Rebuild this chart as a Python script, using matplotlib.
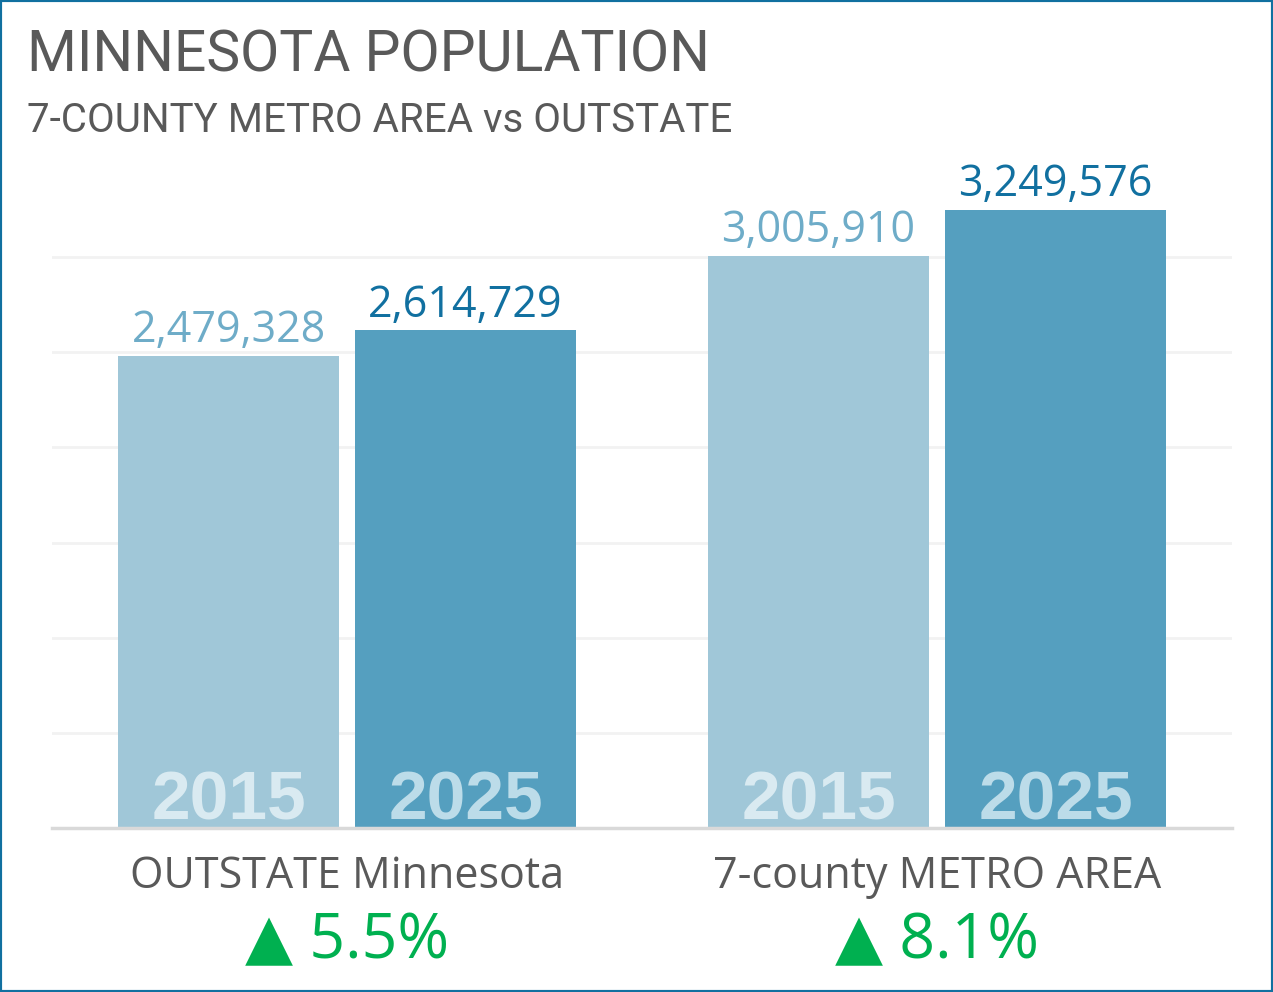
import matplotlib
matplotlib.use('Agg')
import matplotlib.pyplot as plt
from matplotlib.transforms import blended_transform_factory
from matplotlib.patches import Rectangle
import numpy as np

regions = ['OUTSTATE Minnesota', '7-county METRO AREA']
years = ['2015', '2025']
pop_2015 = [2479328, 3005910]
pop_2025 = [2614729, 3249576]
growth = ['5.5%', '8.1%']

light = '#A0C7D8'
dark = '#559FBF'
grey = '#595959'
green = '#00B050'
frame = '#1170A0'

fig = plt.figure(figsize=(12.73, 9.92), dpi=100)
ax = fig.add_axes([52/1273, 1-828/992, 1180/1273, (828-162)/992])

x = np.arange(len(regions))
w = 0.376
off = 0.2008
b1 = ax.bar(x - off, pop_2015, w, color=light, zorder=2)
b2 = ax.bar(x + off, pop_2025, w, color=dark, zorder=2)

ax.set_xlim(-0.5, 1.5)
ax.set_ylim(0, 3.5e6)
ax.set_yticks(np.arange(5e5, 3.5e6, 5e5))
ax.yaxis.grid(True, color='#F2F2F2', linewidth=2)
ax.set_axisbelow(True)
ax.tick_params(left=False, bottom=False, labelleft=False, labelbottom=False)
for s in ['top', 'right', 'left']:
    ax.spines[s].set_visible(False)
ax.spines['bottom'].set_color('#D9D9D9')
ax.spines['bottom'].set_linewidth(2.5)
ax.spines['bottom'].set_zorder(3)

valfont = dict(family='Open Sans', fontsize=31)
for bars, col in [(b1, '#6EACC8'), (b2, '#1170A0')]:
    for b in bars:
        h = b.get_height()
        ax.annotate(f'{h:,}', (b.get_x() + b.get_width()/2, h), xytext=(0, 2),
                    textcoords='offset points', ha='center', va='bottom', color=col, **valfont)

for bars, yr, col in [(b1, years[0], '#D9EAF1'), (b2, years[1], '#BCDCE9')]:
    for b in bars:
        ax.annotate(yr, (b.get_x() + b.get_width()/2, 0), xytext=(0, 6),
                    textcoords='offset points', ha='center', va='baseline', color=col,
                    family='Liberation Sans', fontweight='bold', fontsize=50, zorder=4)

tr = blended_transform_factory(ax.transData, fig.transFigure)
for i, (r, g) in enumerate(zip(regions, growth)):
    ax.text(x[i], 1-877/992, r, transform=tr, ha='center', va='center',
            family='Open Sans', fontsize=31, color=grey)
    ax.text(x[i], 1-942/992, '\u25B2 ' + g, transform=tr, ha='center', va='center',
            family=['Open Sans', 'DejaVu Sans'], fontsize=45, color=green)

fig.text(27/1273, 1-56/992, 'MINNESOTA POPULATION', ha='left', va='center',
         family='Roboto', fontsize=41, color=grey)
fig.text(27/1273, 1-121/992, '7-COUNTY METRO AREA vs OUTSTATE', ha='left', va='center',
         family='Roboto', fontsize=29, color=grey)

fig.patches.append(Rectangle((0, 0), 1, 1, transform=fig.transFigure, fill=False,
                             edgecolor=frame, linewidth=3, zorder=10))

fig.savefig('out.png', dpi=100)
